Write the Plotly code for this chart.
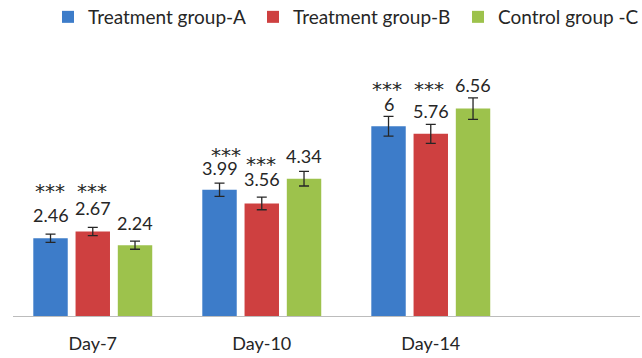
import plotly.graph_objects as go

# Healing score per group at each time point, with standard error
days = ["Day-7", "Day-10", "Day-14"]
groups = ["Treatment group-A", "Treatment group-B", "Control group -C"]
group_a = [2.46, 3.99, 6]
group_b = [2.67, 3.56, 5.76]
group_c = [2.24, 4.34, 6.56]
err_a = [0.13, 0.21, 0.31]
err_b = [0.13, 0.20, 0.30]
err_c = [0.13, 0.23, 0.34]
# significance marks (A and B vs control)
signif_a = ["***", "***", "***"]
signif_b = ["***", "***", "***"]
signif_c = ["", "", ""]

values = [group_a, group_b, group_c]
errors = [err_a, err_b, err_c]
signif = [signif_a, signif_b, signif_c]
colors = ["#3d7cc9", "#ce4040", "#9dc24c"]

FONT = "Lato"
STAR_FONT = "DejaVu Sans"
TXT = "#262626"
BARGAP = 0.25
BARGROUPGAP = 0.185

# label placement (px above the top of each error bar)
num_lift = [[11.3, 6.7, 4.6], [11.0, 9.7, 5.0], [10.0, 7.0, 4.4]]
star_lift = [[47.0, 31.4, 30.8], [40.0, 36.7, 38.8], [0, 0, 0]]
star_nudge = [[-1, 6, -2], [-1, -1, -2], [0, 0, 0]]

fig = go.Figure()
for name, vals, errs, col in zip(groups, values, errors, colors):
    fig.add_trace(go.Bar(
        x=days, y=vals, name=name,
        marker=dict(color=col, line=dict(width=0)),
        error_y=dict(type="data", array=errs, visible=True,
                     color="#262626", thickness=1.3, width=5),
    ))

slot = (1 - BARGAP) / len(groups)
annotations = []
for i, (vals, errs, marks) in enumerate(zip(values, errors, signif)):
    offset = (i - (len(groups) - 1) / 2) * slot
    for j, (v, e, m) in enumerate(zip(vals, errs, marks)):
        xpos = j + offset
        annotations.append(dict(
            x=xpos, y=v + e, xref="x", yref="y",
            text=f"{v:g}", showarrow=False,
            xanchor="center", yanchor="bottom",
            yshift=num_lift[i][j] - 4.8,
            font=dict(family=FONT, size=18, color=TXT),
        ))
        if m:
            annotations.append(dict(
                x=xpos, y=v + e, xref="x", yref="y",
                text=m, showarrow=False,
                xanchor="center", yanchor="bottom",
                yshift=star_lift[i][j] - 17.7,
                xshift=star_nudge[i][j],
                font=dict(family=STAR_FONT, size=20, color=TXT),
            ))

fig.update_layout(
    width=642, height=358,
    margin=dict(l=13, r=2, t=63, b=42),
    paper_bgcolor="white", plot_bgcolor="white",
    barmode="group", bargap=BARGAP, bargroupgap=BARGROUPGAP,
    font=dict(family=FONT, size=18, color=TXT),
    showlegend=True,
    legend=dict(
        orientation="h", xref="container", yref="container",
        x=48 / 642, y=1 - 17 / 358, xanchor="left", yanchor="middle",
        entrywidth=160, entrywidthmode="pixels",
        font=dict(family=FONT, size=19, color=TXT),
        bgcolor="rgba(0,0,0,0)", borderwidth=0,
        traceorder="normal",
    ),
    annotations=annotations,
)
fig.update_xaxes(
    range=[-0.472, 3.238], showline=True, linecolor="#bcbcbc", linewidth=1.3,
    showgrid=False, zeroline=False, ticks="", ticklabelstandoff=11,
    tickfont=dict(family=FONT, size=18, color=TXT),
)
fig.update_yaxes(
    range=[0, 8], visible=False, showgrid=False, zeroline=False,
)

fig.write_html("out.html")
